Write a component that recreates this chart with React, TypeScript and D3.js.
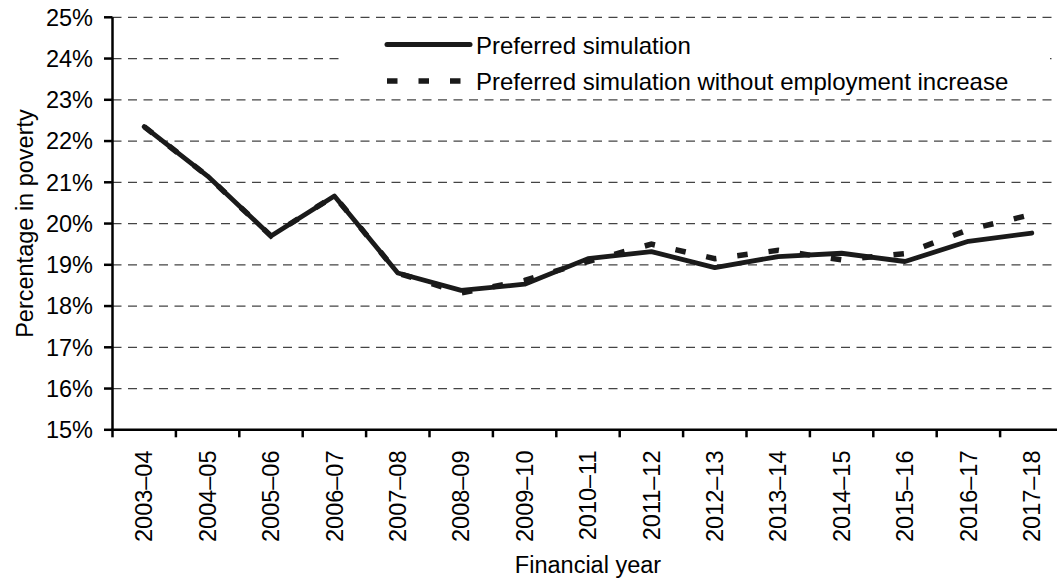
import React from "react";
import * as d3 from "d3";

const categories = [
  "2003–04", "2004–05", "2005–06", "2006–07", "2007–08", "2008–09", "2009–10",
  "2010–11", "2011–12", "2012–13", "2013–14", "2014–15", "2015–16", "2016–17", "2017–18",
];
const preferred = [22.35, 21.15, 19.7, 20.67, 18.8, 18.38, 18.53, 19.15, 19.32, 18.93, 19.2, 19.28, 19.08, 19.57, 19.77];
const withoutEmployment = [22.35, 21.15, 19.7, 20.67, 18.8, 18.32, 18.62, 19.08, 19.5, 19.15, 19.35, 19.12, 19.27, 19.85, 20.22];
const yTicks = [15, 16, 17, 18, 19, 20, 21, 22, 23, 24, 25];
const legendLabels = ["Preferred simulation", "Preferred simulation without employment increase"];
const xTitle = "Financial year";
const yTitle = "Percentage in poverty";

const W = 1057;
const H = 581;
const FONT = "'Liberation Sans', Arial, Helvetica, sans-serif";
const FS = 23.5;
const LFS = 24;

export default function App() {
  const left = 112.5;
  const right = 1063.5;
  const top = 17.3;
  const bottom = 429.8;

  const x = d3.scaleBand<string>().domain(categories).range([left, right]).padding(0);
  const y = d3.scaleLinear().domain([15, 25]).range([bottom, top]);
  const cx = (c: string) => (x(c) as number) + x.bandwidth() / 2;

  const line = d3
    .line<number>()
    .x((_, i) => cx(categories[i]))
    .y((d) => y(d));

  const tickEdges = categories.map((c) => x(c) as number).concat([right]);

  return (
    <svg
      width={W}
      height={H}
      style={{ position: "absolute", left: 0, top: 0, display: "block", background: "#fff" }}
      fontFamily={FONT}
    >
      <rect x={0} y={0} width={W} height={H} fill="#fff" />
      {/* gridlines */}
      {yTicks.map((t) =>
        t === 15 ? null : (
          <line
            key={"g" + t}
            x1={left}
            x2={right}
            y1={y(t)}
            y2={y(t)}
            stroke="#444"
            strokeWidth={1.3}
            strokeDasharray="9,6.5"
          />
        )
      )}
      {/* legend box background hides a gridline */}
      <rect x={340} y={28} width={710} height={66} fill="#fff" />

      {/* series */}
      <path d={line(preferred) || ""} fill="none" stroke="#1a1a1a" strokeWidth={4.8} strokeLinejoin="round" strokeLinecap="round" />
      <path d={line(withoutEmployment) || ""} fill="none" stroke="#1a1a1a" strokeWidth={5.5} strokeDasharray="10.5,21" strokeLinejoin="miter" />

      {/* axes */}
      <line x1={left} x2={left} y1={top} y2={bottom + 1} stroke="#000" strokeWidth={2.5} />
      <line x1={left - 1} x2={right} y1={bottom} y2={bottom} stroke="#000" strokeWidth={2.5} />
      {yTicks.map((t) => (
        <g key={"yt" + t}>
          <line x1={left - 8.5} x2={left} y1={y(t)} y2={y(t)} stroke="#000" strokeWidth={2.5} />
          <text x={93} y={y(t)} dy="0.35em" textAnchor="end" fontSize={FS} fill="#000">
            {t + "%"}
          </text>
        </g>
      ))}
      {tickEdges.map((e, i) => (
        <line key={"xt" + i} x1={e} x2={e} y1={bottom} y2={bottom + 7.5} stroke="#000" strokeWidth={2.5} />
      ))}
      {categories.map((c) => (
        <text
          key={"xl" + c}
          transform={`translate(${cx(c)},450.5) rotate(-90)`}
          dy="0.35em"
          textAnchor="end"
          fontSize={FS}
          fill="#000"
        >
          {c}
        </text>
      ))}

      {/* axis titles */}
      <text x={(left + right) / 2} y={573} textAnchor="middle" fontSize={FS} fill="#000">
        {xTitle}
      </text>
      <text transform={`translate(33,${(top + bottom) / 2}) rotate(-90)`} textAnchor="middle" fontSize={FS} fill="#000">
        {yTitle}
      </text>

      {/* legend */}
      <line x1={387} x2={470} y1={44.5} y2={44.5} stroke="#1a1a1a" strokeWidth={5} strokeLinecap="round" />
      <text x={476} y={45.5} dy="0.35em" fontSize={LFS} fill="#000">
        {legendLabels[0]}
      </text>
      <line x1={387} x2={461.5} y1={81} y2={81} stroke="#1a1a1a" strokeWidth={5.5} strokeDasharray="10.5,21" />
      <text x={476} y={81.5} dy="0.35em" fontSize={LFS} fill="#000">
        {legendLabels[1]}
      </text>
    </svg>
  );
}
